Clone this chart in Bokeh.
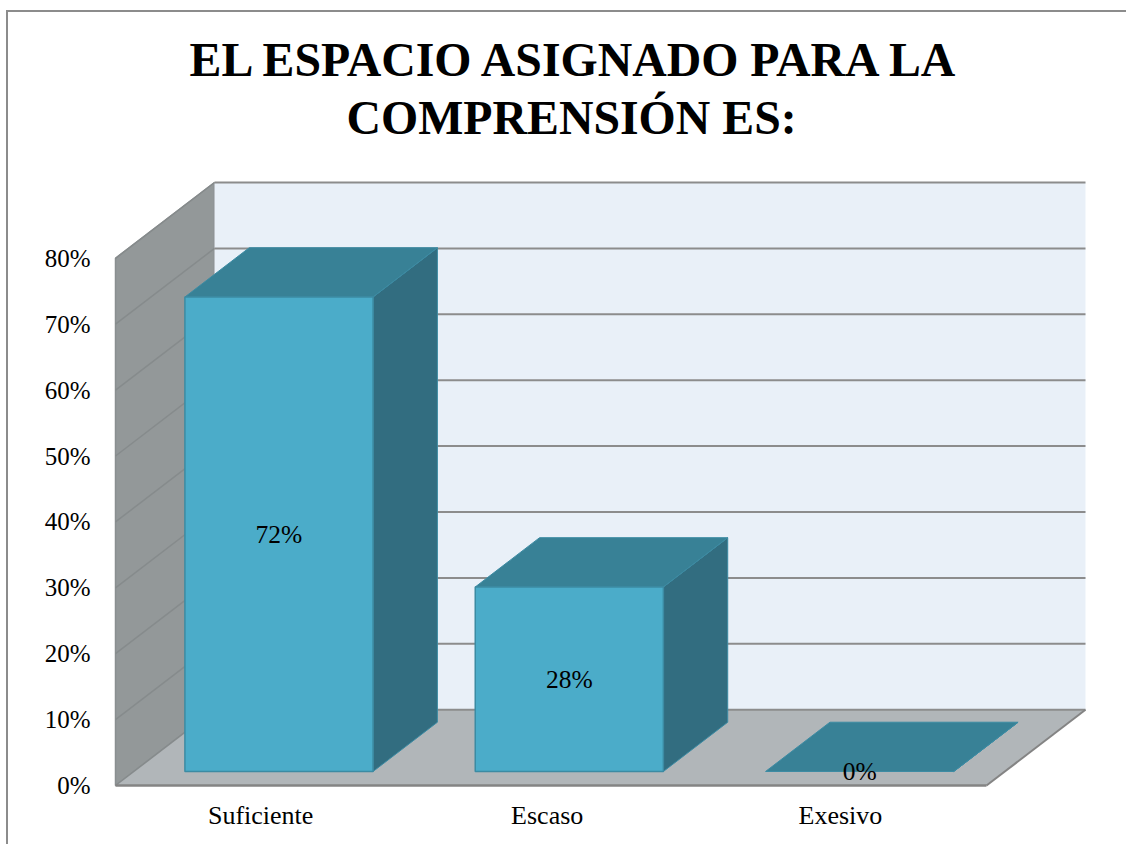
from bokeh.plotting import figure
from bokeh.embed import file_html
from bokeh.resources import INLINE
from bokeh.models import Range1d, FixedTicker, Title
from bokeh.core.properties import value as V

categories = ["Suficiente", "Escaso", "Exesivo"]
values = [72, 28, 0]
value_labels = ["72%", "28%", "0%"]
y_ticks = [0, 10, 20, 30, 40, 50, 60, 70, 80]
title_lines = ["EL ESPACIO ASIGNADO PARA LA", "COMPRENSIÓN ES:"]

# oblique projection, in data units
UX, UY = 290.33, 6.59   # pixels per category, pixels per percent
DX = 99 / UX            # depth shift along x (categories)
DY = 75.8 / UY          # depth shift along y (percent)
BAR_D0, BAR_D1 = 0.185, 0.835
BAR_W = 0.648
SERIF = "Liberation Serif"

WALL = "#939899"; FLOOR = "#B1B6B9"; BACK = "#E9F0F8"; GRID = "#8C8C8C"
FRONT = "#4BACC9"; TOP = "#388196"; SIDE = "#326D80"; EDGE = "#3C8BA3"

OX, OY = 8, 12          # page position of the canvas, inside its border
FRAME_LEFT, FRAME_RIGHT, FRAME_TOP, FRAME_BOTTOM = 112, 1090, 146, 790
ORIGIN_X, ORIGIN_Y = 115, 785


def pt(x, y, d=0.0):
    return x + d * DX, y + d * DY


def poly(p, pts, fill, line=None, lw=1.0):
    xs, ys = zip(*pts)
    p.patch(list(xs), list(ys), fill_color=fill, line_color=line, line_width=lw)


p = figure(width=1128 - OX, height=846 - OY, output_backend="svg", toolbar_location=None,
           x_range=Range1d((FRAME_LEFT - ORIGIN_X) / UX, (FRAME_RIGHT - ORIGIN_X) / UX),
           y_range=Range1d((ORIGIN_Y - FRAME_BOTTOM) / UY, (ORIGIN_Y - FRAME_TOP) / UY),
           min_border_left=FRAME_LEFT - OX, min_border_right=1128 - FRAME_RIGHT,
           min_border_top=FRAME_TOP - OY, min_border_bottom=846 - FRAME_BOTTOM,
           background_fill_color=None, border_fill_color="white", outline_line_color=None)
p.styles = {"border-left": "2px solid #8C8C8C", "border-top": "2px solid #8C8C8C",
            "margin-left": "6px", "margin-top": "10px"}
p.grid.visible = False

n = len(categories)
top = y_ticks[-1]
# chart walls
poly(p, [pt(0, 0), pt(0, top), pt(0, top, 1), pt(0, 0, 1)], WALL, "#8A8F90", 1.5)
poly(p, [pt(0, 0, 1), pt(0, top, 1), pt(n, top, 1), pt(n, 0, 1)], BACK)
poly(p, [pt(0, 0), pt(0, 0, 1), pt(n, 0, 1), pt(n, 0)], FLOOR)
for t in y_ticks:
    a, b, c = pt(0, t), pt(0, t, 1), pt(n, t, 1)
    p.line([a[0], b[0]], [a[1], b[1]], line_color="#868B8C", line_width=1.5)
    p.line([b[0], c[0]], [b[1], c[1]], line_color=GRID, line_width=2)
a, b = pt(0, 0), pt(n, 0)
p.line([a[0], b[0]], [a[1], b[1]], line_color="#848484", line_width=2.5)
b2 = pt(n, 0, 1)
p.line([b[0], b2[0]], [b[1], b2[1]], line_color="#848484", line_width=2)

# bars
for i, v in enumerate(values):
    x0 = i + (1 - BAR_W) / 2
    x1 = x0 + BAR_W
    poly(p, [pt(x1, 0, BAR_D0), pt(x1, v, BAR_D0), pt(x1, v, BAR_D1), pt(x1, 0, BAR_D1)], SIDE, EDGE, 1)
    poly(p, [pt(x0, v, BAR_D0), pt(x0, v, BAR_D1), pt(x1, v, BAR_D1), pt(x1, v, BAR_D0)], TOP, EDGE, 1)
    if v > 0:
        poly(p, [pt(x0, 0, BAR_D0), pt(x0, v, BAR_D0), pt(x1, v, BAR_D0), pt(x1, 0, BAR_D0)], FRONT, EDGE, 1.5)
    lx, ly = pt((x0 + x1) / 2, v / 2, BAR_D0)
    p.text([lx], [ly], text=[value_labels[i]], text_font=V(SERIF), text_font_size="25.5px",
           text_color="black", text_align="center", text_baseline="middle")

# axes
xt = [0.5, 1.487, 2.497]
p.xaxis.ticker = FixedTicker(ticks=xt)
p.xaxis.major_label_overrides = dict(zip(xt, categories))
p.yaxis.ticker = FixedTicker(ticks=y_ticks)
p.yaxis.major_label_overrides = {t: f"{t}%" for t in y_ticks}
for ax, size, so in ((p.xaxis, "26px", 4), (p.yaxis, "25px", 16)):
    ax.axis_line_color = None
    ax.major_tick_line_color = None
    ax.minor_tick_line_color = None
    ax.major_label_text_font = SERIF
    ax.major_label_text_font_size = size
    ax.major_label_text_color = "black"
    ax.major_label_standoff = so

# title, one real Title per line
p.title = None
for text, off, sa in ((title_lines[1], 234, 6), (title_lines[0], 77, 0)):
    t = Title(text=text, align="left", offset=off, text_font=SERIF, text_font_size="47.8px",
              text_font_style="bold", text_color="black", standoff=sa)
    p.add_layout(t, "above")

open("out.html", "w").write(file_html(p, INLINE))
